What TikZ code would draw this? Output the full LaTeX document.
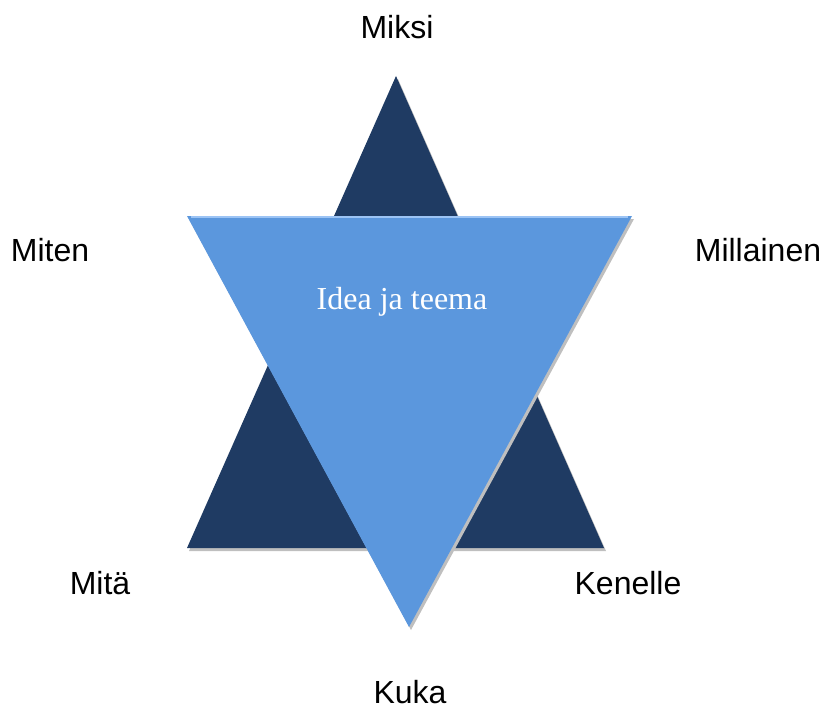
\documentclass[tikz,border=0pt]{standalone}
\usepackage{fontspec}
\setmainfont{Liberation Sans}
\newfontfamily\ideafont{Liberation Serif}
\usepackage{tikz}
\usetikzlibrary{calc}

\definecolor{darkblue}{HTML}{1F3B63}
\definecolor{lightblue}{HTML}{5B97DD}
\definecolor{edgeblue}{HTML}{9CC4F5}

\tikzset{
  lbl/.style={font=\fontsize{32}{36}\selectfont, text=black, inner sep=0pt},
  title/.style={font=\ideafont\fontsize{32}{36}\selectfont, text=white, inner sep=0pt},
}

\begin{document}
\begin{tikzpicture}[x=1pt, y=-1pt]
  \useasboundingbox (0,0) rectangle (825,709);
  % corners of the two triangles
  \coordinate (dtop) at (396,76);
  \coordinate (dleft) at (187,548);
  \coordinate (dright) at (604,548);
  \coordinate (lleft) at (187,216);
  \coordinate (lright) at (632,216);
  \coordinate (lbot) at (409,627);
  % shadows
  \fill[black!25] ($(dtop)+(2,3)$) -- ($(dright)+(2,3)$) -- ($(dleft)+(2,3)$) -- cycle;
  \fill[darkblue] (dtop) -- (dright) -- (dleft) -- cycle;
  \fill[black!25] ($(lleft)+(2,3)$) -- ($(lright)+(2,3)$) -- ($(lbot)+(2,3)$) -- cycle;
  \fill[lightblue] (lleft) -- (lright) -- (lbot) -- cycle;
  \draw[edgeblue, line width=2pt] ($(lleft)+(4,1)$) -- ($(lright)+(-4,1)$);
  \node[title] (idea) at (402,302) {Idea ja teema};
  \node[lbl] (miksi) at (397,27) {Miksi};
  \node[lbl] (miten) at (50,250) {Miten};
  \node[lbl] (millainen) at (758,250) {Millainen};
  \node[lbl] (mita) at (100,583) {Mitä};
  \node[lbl] (kenelle) at (628,583) {Kenelle};
  \node[lbl] (kuka) at (410,692) {Kuka};
\end{tikzpicture}
\end{document}
